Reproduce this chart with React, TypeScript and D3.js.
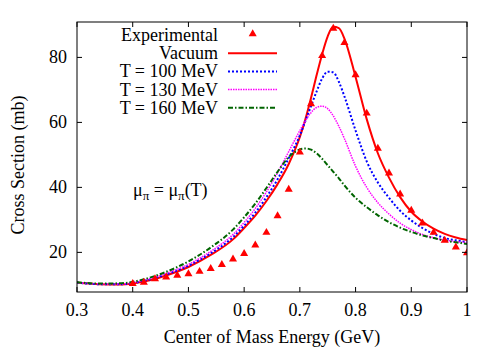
import React from "react";
import * as d3 from "d3";

// energy grid for model curves (GeV)
const energies = [
  0.3, 0.34, 0.38, 0.42, 0.46, 0.5, 0.54, 0.58, 0.6, 0.62, 0.64, 0.66, 0.68, 0.7, 0.71, 0.72, 0.73,
  0.74, 0.75, 0.76, 0.77, 0.78, 0.8, 0.82, 0.84, 0.86, 0.88, 0.9, 0.92, 0.94, 0.96, 0.98, 1.0,
];
const vacuum = [
  10.7, 10.2, 10.1, 11.0, 12.9, 15.5, 19.2, 24.0, 27.5, 31.3, 35.8, 41.0, 47.2, 55.5, 61.0, 67.5, 74.5,
  81.0, 86.5, 89.4, 89.0, 85.8, 74.0, 61.0, 50.5, 43.0, 37.0, 32.5, 29.5, 27.3, 25.7, 24.6, 23.8,
];
const t100 = [
  10.7, 10.2, 10.2, 11.2, 13.2, 15.9, 19.7, 24.7, 28.2, 32.2, 37.0, 42.5, 49.0, 56.0, 60.5, 65.0, 69.5,
  73.5, 75.6, 75.4, 72.5, 68.0, 57.5, 48.0, 41.5, 36.8, 32.8, 29.8, 27.5, 25.7, 24.4, 23.7, 23.2,
];
const t130 = [
  10.7, 10.3, 10.3, 11.4, 13.5, 16.3, 20.3, 25.5, 29.2, 33.5, 38.6, 44.5, 51.0, 57.5, 60.5, 63.0, 64.6,
  65.0, 64.2, 62.0, 58.8, 55.0, 46.5, 40.0, 35.3, 31.8, 29.0, 27.0, 25.5, 24.5, 23.8, 23.3, 23.0,
];
const t160 = [
  10.8, 10.4, 10.5, 11.7, 14.0, 17.2, 21.5, 27.0, 30.8, 35.0, 39.8, 44.8, 49.3, 51.7, 52.0, 51.6, 50.5,
  48.8, 46.8, 44.8, 42.8, 40.6, 36.8, 33.9, 31.4, 29.3, 27.6, 26.3, 25.2, 24.4, 23.6, 23.1, 22.6,
];

// experimental points
const expEnergy = [
  0.4, 0.42, 0.44, 0.46, 0.48, 0.5, 0.52, 0.54, 0.56, 0.58, 0.6, 0.62, 0.64, 0.66, 0.68, 0.7, 0.72,
  0.74, 0.76, 0.78, 0.8, 0.82, 0.84, 0.86, 0.88, 0.9, 0.92, 0.94, 0.96, 0.98, 1.0,
];
const expSigma = [
  10.35, 10.75, 11.8, 12.4, 12.9, 13.4, 14.1, 15.0, 16.2, 17.9, 19.6, 22.2, 26.1, 31.2, 39.4, 50.8,
  65.7, 80.5, 88.9, 84.5, 74.6, 62.8, 52.0, 44.4, 37.9, 32.9, 29.0, 26.1, 23.7, 21.6, 19.8,
];

const xTicks = [0.3, 0.4, 0.5, 0.6, 0.7, 0.8, 0.9, 1];
const yTicks = [20, 40, 60, 80];

const series = [
  { label: "Vacuum", values: vacuum, color: "#ff0000", width: 2, dash: "" },
  { label: "T = 100 MeV", values: t100, color: "#0000ff", width: 2, dash: "2,2" },
  { label: "T = 130 MeV", values: t130, color: "#ff00ff", width: 1.5, dash: "1.5,1" },
  { label: "T = 160 MeV", values: t160, color: "#006400", width: 2, dash: "5,2,1.5,2" },
];

const font = "'Liberation Serif', Tinos, 'Times New Roman', Times, 'DejaVu Serif', serif";

const App = () => {
  const W = 500;
  const H = 350;
  const left = 77;
  const right = 467;
  const top = 22;
  const bottom = 292;

  const x = d3.scaleLinear().domain([0.3, 1]).range([left, right]);
  const y = d3.scaleLinear().domain([7.8, 90.9]).range([bottom, top]);

  const line = d3
    .line<number>()
    .x((_, i) => x(energies[i]))
    .y((d) => y(d))
    .curve(d3.curveMonotoneX);

  const tri = d3.symbol().type(d3.symbolTriangle).size(28)();

  // legend layout
  const legX = 218;
  const legY0 = 35;
  const legDy = 18.2;

  return (
    <svg
      width={W}
      height={H}
      style={{ position: "absolute", left: 0, top: 0, background: "#fff", fontFamily: font, fontSize: 18 }}
    >
      <defs>
        <clipPath id="plot">
          <rect x={left} y={top} width={right - left} height={bottom - top} />
        </clipPath>
      </defs>

      {/* curves */}
      <g clipPath="url(#plot)">
        {series.map((s) => (
          <path
            key={s.label}
            d={line(s.values) || ""}
            fill="none"
            stroke={s.color}
            strokeWidth={s.width}
            strokeDasharray={s.dash || undefined}
          />
        ))}
        {expEnergy.map((e, i) => (
          <path
            key={i}
            d={tri || ""}
            transform={`translate(${x(e)},${y(expSigma[i])})`}
            fill="#ff0000"
          />
        ))}
      </g>

      {/* frame */}
      <rect x={left} y={top} width={right - left} height={bottom - top} fill="none" stroke="#000" strokeWidth={1} />

      {/* x ticks */}
      {xTicks.map((t) => (
        <g key={t}>
          <line x1={x(t)} x2={x(t)} y1={bottom} y2={bottom - 5} stroke="#000" />
          <line x1={x(t)} x2={x(t)} y1={top} y2={top + 5} stroke="#000" />
          <text x={x(t)} y={316} textAnchor="middle">
            {t === 1 ? "1" : t.toFixed(1)}
          </text>
        </g>
      ))}

      {/* y ticks */}
      {yTicks.map((t) => (
        <g key={t}>
          <line x1={left} x2={left + 5} y1={y(t)} y2={y(t)} stroke="#000" />
          <line x1={right} x2={right - 5} y1={y(t)} y2={y(t)} stroke="#000" />
          <text x={67} y={y(t) + 6} textAnchor="end">
            {t}
          </text>
        </g>
      ))}

      {/* axis titles */}
      <text x={(left + right) / 2} y={343} textAnchor="middle">
        Center of Mass Energy (GeV)
      </text>
      <text transform={`translate(24,${(top + bottom) / 2 + 8}) rotate(-90)`} textAnchor="middle">
        Cross Section (mb)
      </text>

      {/* legend */}
      <text x={legX} y={legY0 + 6} textAnchor="end">
        Experimental
      </text>
      <path d={tri || ""} transform={`translate(252.7,${legY0 - 1})`} fill="#ff0000" />
      {series.map((s, i) => {
        const ly = legY0 + legDy * (i + 1);
        return (
          <g key={s.label}>
            <text x={legX} y={ly + 6} textAnchor="end">
              {s.label}
            </text>
            <line
              x1={228}
              x2={277}
              y1={ly}
              y2={ly}
              stroke={s.color}
              strokeWidth={s.width}
              strokeDasharray={s.dash || undefined}
            />
          </g>
        );
      })}

      {/* annotation */}
      <text x={133} y={196}>
        μ<tspan dy={4} fontSize={13}>π</tspan>
        <tspan dy={-4}> = μ</tspan>
        <tspan dy={4} fontSize={13}>π</tspan>
        <tspan dy={-4}>(T)</tspan>
      </text>
    </svg>
  );
};

export default App;
